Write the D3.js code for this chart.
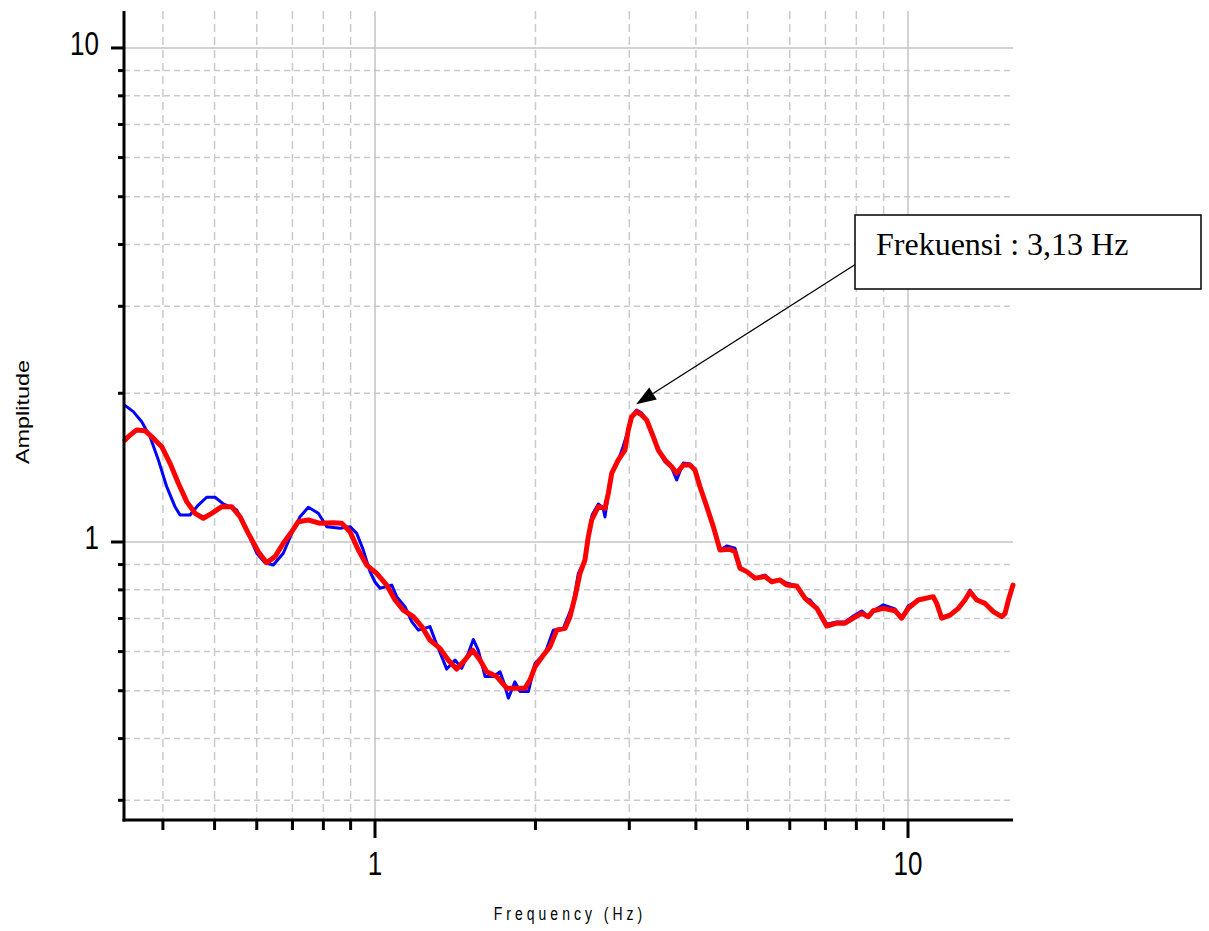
<!DOCTYPE html>
<html>
<head>
<meta charset="utf-8">
<script src="https://cdn.jsdelivr.net/npm/d3@7"></script>
<style>
  html, body { margin: 0; padding: 0; background: #fff; }
  svg { display: block; }
</style>
</head>
<body>
<svg id="chart" width="1209" height="931"></svg>
<script>
// ---------------- data ----------------
const freqRed = [0.3396,0.3444,0.3571,0.3702,0.3837,0.398,0.4125,0.4276,0.4433,0.4596,
  0.4764,0.4939,0.5158,0.5384,0.558,0.5785,0.604,0.6263,0.6493,0.6729,
  0.6978,0.718,0.7497,0.7885,0.8351,0.866,0.8977,0.9304,0.9648,1.0074,
  1.0519,1.0902,1.130,1.180,1.224,1.268,1.324,1.372,1.423,1.475,
  1.525,1.574,1.620,1.692,1.766,1.845,1.912,1.954,1.996,2.069,
  2.130,2.193,2.273,2.322,2.373,2.424,2.477,2.513,2.550,2.624,
  2.701,2.740,2.781,2.861,2.944,2.987,3.031,3.097,3.164,3.233,
  3.327,3.400,3.500,3.603,3.681,3.788,3.899,3.984,4.071,4.192,
  4.313,4.439,4.634,4.736,4.840,4.983,5.164,5.392,5.551,5.752,
  5.922,6.183,6.410,6.743,7.039,7.350,7.618,7.896,8.188,8.425,
  8.609,8.990,9.454,9.732,10.01,10.45,11.15,11.32,11.57,11.99,
  12.43,12.79,13.07,13.46,13.95,14.45,14.99,15.21,15.43,15.74];
const ampRed = [1.609,1.634,1.686,1.680,1.622,1.559,1.443,1.315,1.207,1.143,
  1.117,1.143,1.179,1.179,1.125,1.041,0.956,0.908,0.934,0.994,
  1.049,1.099,1.108,1.091,1.094,1.091,1.049,0.963,0.898,0.864,
  0.818,0.763,0.728,0.706,0.674,0.633,0.609,0.577,0.553,0.577,
  0.604,0.577,0.546,0.534,0.506,0.506,0.506,0.526,0.559,0.590,
  0.614,0.663,0.669,0.706,0.775,0.864,0.920,1.025,1.108,1.179,
  1.170,1.255,1.378,1.466,1.535,1.686,1.793,1.836,1.807,1.766,
  1.634,1.535,1.466,1.420,1.378,1.432,1.432,1.399,1.294,1.179,
  1.074,0.963,0.967,0.956,0.885,0.871,0.845,0.851,0.831,0.838,
  0.818,0.815,0.769,0.734,0.676,0.685,0.685,0.701,0.717,0.706,
  0.726,0.734,0.726,0.701,0.734,0.763,0.775,0.751,0.701,0.711,
  0.734,0.763,0.793,0.763,0.751,0.723,0.706,0.717,0.763,0.818];

const freqBlue = [0.3381,0.3420,0.3520,0.3650,0.3784,0.3922,0.4066,0.4214,0.4307,0.4497,
  0.4661,0.4832,0.5010,0.5193,0.5501,0.5744,0.5998,0.6217,0.6445,0.6729,
  0.6978,0.7234,0.7497,0.7828,0.8117,0.8598,0.8977,0.9240,0.9507,0.9786,
  1.0,1.022,1.075,1.098,1.138,1.172,1.206,1.268,1.296,1.334,
  1.363,1.413,1.454,1.496,1.529,1.562,1.609,1.667,1.716,1.746,
  1.779,1.830,1.871,1.940,1.996,2.084,2.160,2.256,2.355,2.407,
  2.477,2.513,2.554,2.624,2.678,2.701,2.740,2.781,2.861,2.919,
  2.987,3.031,3.097,3.164,3.233,3.327,3.400,3.500,3.603,3.681,
  3.788,3.899,3.984,4.071,4.192,4.313,4.439,4.575,4.736,4.840,
  4.983,5.164,5.392,5.551,5.752,5.922,6.183,6.410,6.549,6.743,
  7.039,7.350,7.618,7.896,8.188,8.425,8.609,8.990,9.454,9.732,
  10.01,10.45,11.15,11.32,11.57,11.99,12.43,12.79,13.07,13.46,
  13.95,14.45,14.99,15.21,15.43,15.74];
const ampBlue = [1.894,1.879,1.836,1.752,1.634,1.466,1.294,1.179,1.134,1.134,
  1.188,1.232,1.232,1.194,1.161,1.058,0.949,0.908,0.898,0.949,
  1.041,1.125,1.176,1.143,1.074,1.066,1.074,1.041,0.963,0.871,
  0.830,0.806,0.818,0.775,0.740,0.690,0.663,0.674,0.633,0.586,
  0.553,0.577,0.555,0.595,0.635,0.604,0.534,0.534,0.546,0.518,
  0.483,0.521,0.498,0.498,0.568,0.595,0.663,0.669,0.751,0.864,
  0.920,1.025,1.134,1.194,1.172,1.124,1.255,1.378,1.466,1.557,
  1.686,1.793,1.850,1.824,1.766,1.634,1.535,1.452,1.412,1.335,
  1.445,1.439,1.399,1.294,1.179,1.074,0.963,0.982,0.972,0.885,
  0.871,0.845,0.857,0.831,0.838,0.826,0.815,0.769,0.763,0.734,
  0.682,0.689,0.689,0.708,0.725,0.706,0.726,0.746,0.732,0.701,
  0.742,0.763,0.775,0.751,0.701,0.711,0.734,0.763,0.799,0.763,
  0.751,0.723,0.706,0.717,0.763,0.818];

const xDomain = [0.3381, 15.74];
const yDomain = [0.2737, 11.88];
const xMajorTicks = [1, 10];
const xMinorTicks = [0.4,0.5,0.6,0.7,0.8,0.9,2,3,4,5,6,7,8,9];
const yMajorTicks = [1, 10];
const yMinorTicks = [0.3,0.4,0.5,0.6,0.7,0.8,0.9,2,3,4,5,6,7,8,9];
const xTickLabels = ["1", "10"];
const yTickLabels = ["1", "10"];
const xTitle = "Frequency (Hz)";
const yTitle = "Amplitude";
const annotText = "Frekuensi : 3,13 Hz";
const peakFreq = 3.09, peakAmp = 1.9;

// ---------------- drawing ----------------
const svg = d3.select("#chart");
const L = 124, R = 1013, T = 11, B = 820;
const x = d3.scaleLog().domain(xDomain).range([L, R]);
const y = d3.scaleLog().domain(yDomain).range([B, T]);
const VS = 1.29; // vertical stretch of the original raster text

const grid = svg.append("g");
grid.selectAll(".vmin").data(xMinorTicks).join("line")
  .attr("x1", d => x(d)).attr("x2", d => x(d)).attr("y1", T).attr("y2", B)
  .attr("stroke", "#cacaca").attr("stroke-width", 1.5).attr("stroke-dasharray", "8,5");
grid.selectAll(".hmin").data(yMinorTicks).join("line")
  .attr("y1", d => y(d)).attr("y2", d => y(d)).attr("x1", L).attr("x2", R)
  .attr("stroke", "#cacaca").attr("stroke-width", 1.5).attr("stroke-dasharray", "6,4");
grid.selectAll(".vmaj").data(xMajorTicks).join("line")
  .attr("x1", d => x(d)).attr("x2", d => x(d)).attr("y1", T).attr("y2", B)
  .attr("stroke", "#c4c4c4").attr("stroke-width", 1.5);
grid.selectAll(".hmaj").data(yMajorTicks).join("line")
  .attr("y1", d => y(d)).attr("y2", d => y(d)).attr("x1", L).attr("x2", R)
  .attr("stroke", "#c4c4c4").attr("stroke-width", 1.5);

// curves
const lineGen = (fs, as) => d3.line().x(i => x(fs[i])).y(i => y(as[i]))(d3.range(fs.length));
svg.append("path").attr("d", lineGen(freqBlue, ampBlue))
  .attr("fill", "none").attr("stroke", "#0000ff").attr("stroke-width", 3)
  .attr("stroke-linejoin", "round");
svg.append("path").attr("d", lineGen(freqRed, ampRed))
  .attr("fill", "none").attr("stroke", "#ff0000").attr("stroke-width", 5)
  .attr("stroke-linejoin", "round").attr("stroke-linecap", "round");

// axes
const ax = svg.append("g").attr("stroke", "#000");
ax.append("line").attr("x1", L).attr("x2", L).attr("y1", T).attr("y2", B + 1.5).attr("stroke-width", 3);
ax.append("line").attr("x1", L - 1.5).attr("x2", R).attr("y1", B).attr("y2", B).attr("stroke-width", 3);
ax.selectAll(".ymaj").data(yMajorTicks).join("line")
  .attr("x1", L - 13).attr("x2", L).attr("y1", d => y(d)).attr("y2", d => y(d)).attr("stroke-width", 3);
ax.selectAll(".ymin").data(yMinorTicks).join("line")
  .attr("x1", L - 6).attr("x2", L).attr("y1", d => y(d)).attr("y2", d => y(d)).attr("stroke-width", 3);
ax.selectAll(".xmaj").data(xMajorTicks).join("line")
  .attr("y1", B).attr("y2", B + 18).attr("x1", d => x(d)).attr("x2", d => x(d)).attr("stroke-width", 3);
ax.selectAll(".xmin").data(xMinorTicks).join("line")
  .attr("y1", B).attr("y2", B + 10).attr("x1", d => x(d)).attr("x2", d => x(d)).attr("stroke-width", 3);

// tick labels
const labFont = "'Liberation Sans', Arial, sans-serif";
svg.selectAll(".ylab").data(yMajorTicks).join("text")
  .attr("transform", d => `translate(${L - 25},${y(d) + 7}) scale(1,${VS})`)
  .attr("text-anchor", "end").attr("font-family", labFont).attr("font-size", 26)
  .attr("fill", "#000").text((d, i) => yTickLabels[i]);
svg.selectAll(".xlab").data(xMajorTicks).join("text")
  .attr("transform", d => `translate(${x(d)},${B + 55}) scale(1,${VS})`)
  .attr("text-anchor", "middle").attr("font-family", labFont).attr("font-size", 26)
  .attr("fill", "#000").text((d, i) => xTickLabels[i]);

// axis titles
svg.append("text")
  .attr("transform", `translate(570,920) scale(1,${VS})`)
  .attr("text-anchor", "middle").attr("font-family", labFont).attr("font-size", 14)
  .attr("letter-spacing", "4px").attr("fill", "#000").text(xTitle);
svg.append("text")
  .attr("transform", `translate(29,412) rotate(-90) scale(1.3,1)`)
  .attr("text-anchor", "middle").attr("font-family", labFont).attr("font-size", 18)
  .attr("fill", "#000").text(yTitle);

// annotation
const tipX = x(peakFreq), tipY = y(peakAmp);
const sx = 856, sy = 264;
const ang = Math.atan2(tipY - sy, tipX - sx);
const hl = 20, hw = 7;
const bx = tipX - hl * Math.cos(ang), by = tipY - hl * Math.sin(ang);
svg.append("line").attr("x1", sx).attr("y1", sy).attr("x2", bx).attr("y2", by)
  .attr("stroke", "#000").attr("stroke-width", 1.3);
svg.append("path")
  .attr("d", `M${tipX},${tipY} L${bx + hw * Math.sin(ang)},${by - hw * Math.cos(ang)} L${bx - hw * Math.sin(ang)},${by + hw * Math.cos(ang)} Z`)
  .attr("fill", "#000");
svg.append("rect").attr("x", 855).attr("y", 215).attr("width", 346).attr("height", 74)
  .attr("fill", "#fff").attr("stroke", "#000").attr("stroke-width", 1.5);
svg.append("text").attr("x", 876).attr("y", 255)
  .attr("font-family", "'Liberation Serif', 'Times New Roman', serif").attr("font-size", 32)
  .attr("fill", "#000").text(annotText);
</script>
</body>
</html>
